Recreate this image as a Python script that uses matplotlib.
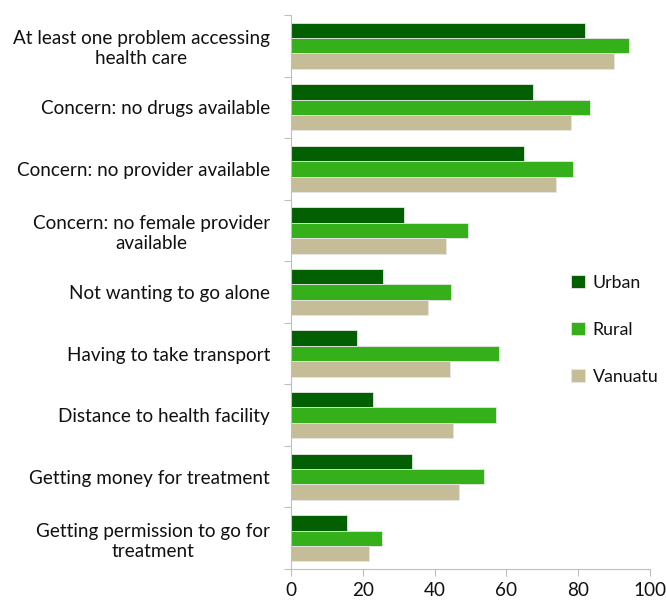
import numpy as np
import matplotlib.pyplot as plt

# Kategoriler (yukaridan asagiya)
kategoriler = [
    'At least one problem accessing\nhealth care',
    'Concern: no drugs available',
    'Concern: no provider available',
    'Concern: no female provider\navailable',
    'Not wanting to go alone',
    'Having to take transport',
    'Distance to health facility',
    'Getting money for treatment',
    'Getting permission to go for\ntreatment',
]

# Seri degerleri (%)
urban = [81.9, 67.4, 64.9, 31.6, 25.8, 18.5, 22.8, 33.6, 15.7]
rural = [94.1, 83.2, 78.6, 49.2, 44.7, 57.9, 57.2, 53.7, 25.3]
vanuatu = [89.9, 77.8, 73.9, 43.1, 38.1, 44.4, 45.2, 46.7, 21.9]

seriler = ['Urban', 'Rural', 'Vanuatu']
renkler = ['#026002', '#35AF1A', '#C4BD97']

plt.rcParams['font.family'] = ['Lato', 'DejaVu Sans']
yazi = 13.6

fig = plt.figure(figsize=(6.66, 6.01), dpi=100)
ax = fig.add_axes([0.4365, 0.0532, 0.54, 0.9218])

n = len(kategoriler)
merkez = np.arange(n)
bar_h = 0.25
for i, (ad, deger, renk) in enumerate(zip(seriler, [urban, rural, vanuatu], renkler)):
    ax.barh(merkez + (i - 1) * bar_h, deger, height=bar_h, color=renk,
            edgecolor='#e6e6e6', linewidth=0.6, label=ad)

ax.set_ylim(n - 0.5, -0.5)
ax.set_xlim(0, 100)

# Kategori sinirlarinda tik, merkezde etiket
ax.set_yticks(np.arange(n + 1) - 0.5)
ax.set_yticklabels([])
ax.set_yticks(merkez, minor=True)
ax.set_yticklabels(kategoriler, minor=True, multialignment='center', fontsize=yazi)
ax.tick_params(axis='y', which='major', length=5, color='#bfbfbf', direction='out')
ax.tick_params(axis='y', which='minor', length=0, pad=15, labelcolor='#111111')

ax.set_xticks(np.arange(0, 101, 20))
ax.tick_params(axis='x', length=5, color='#bfbfbf', labelsize=yazi, labelcolor='#111111', pad=4)

for s in ['top', 'right']:
    ax.spines[s].set_visible(False)
for s in ['left', 'bottom']:
    ax.spines[s].set_color('#bfbfbf')

ax.legend(loc='center left', bbox_to_anchor=(0.858, 0.451), bbox_transform=fig.transFigure,
          frameon=False, fontsize=12.8, labelspacing=1.75, handlelength=0.75, handleheight=0.75,
          handletextpad=0.45, borderpad=0, borderaxespad=0, labelcolor='#111111')

plt.savefig('out.png', dpi=100)
